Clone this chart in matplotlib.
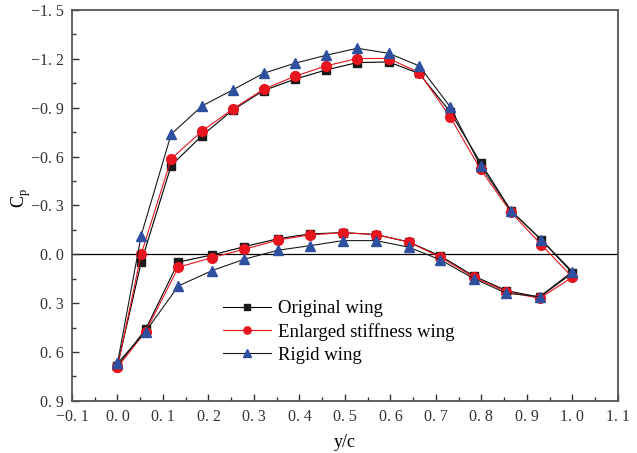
import matplotlib
matplotlib.use("Agg")
import matplotlib.pyplot as plt
import numpy as np
from matplotlib.ticker import MultipleLocator, FuncFormatter

plt.rcParams['font.family'] = ['Liberation Serif', 'DejaVu Serif']

# chordwise stations, upper surface (LE -> TE) then lower surface (TE -> LE)
x_upper = [0.0, 0.052, 0.118, 0.186, 0.253, 0.321, 0.390, 0.459, 0.527,
           0.596, 0.663, 0.731, 0.798, 0.865, 0.932, 1.0]
x_lower = [0.928, 0.855, 0.783, 0.710, 0.640, 0.568, 0.496, 0.423, 0.353,
           0.279, 0.208, 0.134, 0.062, 0.0]

cp_orig_up = [0.685, 0.05, -0.545, -0.729, -0.885, -1.005, -1.075, -1.132, -1.177,
              -1.181, -1.11, -0.876, -0.563, -0.268, -0.088, 0.115]
cp_orig_lo = [0.263, 0.223, 0.133, 0.01, -0.076, -0.121, -0.133, -0.125, -0.096,
              -0.047, 0.004, 0.047, 0.46, 0.685]

cp_stiff_up = [0.693, 0.0, -0.586, -0.757, -0.891, -1.013, -1.093, -1.157, -1.202,
               -1.202, -1.116, -0.845, -0.522, -0.258, -0.058, 0.141]
cp_stiff_lo = [0.27, 0.23, 0.14, 0.018, -0.076, -0.121, -0.133, -0.119, -0.088,
               -0.031, 0.02, 0.079, 0.474, 0.693]

cp_rigid_up = [0.669, -0.115, -0.737, -0.911, -1.009, -1.111, -1.173, -1.222, -1.265,
               -1.234, -1.157, -0.907, -0.543, -0.268, -0.088, 0.106]
cp_rigid_lo = [0.26, 0.239, 0.149, 0.034, -0.044, -0.084, -0.084, -0.053, -0.025,
               0.03, 0.1, 0.194, 0.474, 0.669]

xc = x_upper + x_lower

fig = plt.figure(figsize=(6.37, 4.53), dpi=100)
ax = fig.add_axes([0.113, 0.115, 0.857, 0.863])

ax.axhline(0, color='black', lw=0.9, zorder=1)

ax.plot(xc, cp_orig_up + cp_orig_lo, color='black', lw=0.8, marker='s',
        ms=6, mfc='#1a1a1a', mec='#1a1a1a', label='Original wing', zorder=3)
ax.plot(xc, cp_stiff_up + cp_stiff_lo, color='#e8141e', lw=0.8, marker='o',
        ms=7, mfc='#e8141e', mec='#e8141e', label='Enlarged stiffness wing', zorder=4)
ax.plot(xc, cp_rigid_up + cp_rigid_lo, color='#1a1a1a', lw=0.8, marker='^',
        ms=7.5, mfc='#2f4fa0', mec='#2f4fa0', label='Rigid wing', zorder=5)

ax.set_xlim(-0.1, 1.1)
ax.set_ylim(0.9, -1.5)
ax.xaxis.set_major_locator(MultipleLocator(0.1))
ax.xaxis.set_minor_locator(MultipleLocator(0.05))
ax.yaxis.set_major_locator(MultipleLocator(0.3))
ax.yaxis.set_minor_locator(MultipleLocator(0.15))

fmt = FuncFormatter(lambda v, p: ('%.1f' % v).replace('.', '. ').replace('-', '\u2212')
                    if abs(v) > 1e-9 else '0. 0')
ax.xaxis.set_major_formatter(fmt)
ax.yaxis.set_major_formatter(fmt)

ax.tick_params(which='both', direction='in', top=False, right=False,
               labelsize=11.5, colors='#333333', width=1.0)
ax.tick_params(which='major', length=5, pad=6)
ax.tick_params(which='minor', length=3)
for s in ax.spines.values():
    s.set_color('#555555')
    s.set_linewidth(1.3)

ax.set_xlabel('y/c', fontsize=13, labelpad=6)
ax.set_ylabel('C$_\\mathregular{p}$', fontsize=13)
ax.yaxis.set_label_coords(-0.072, 0.52)

ax.legend(loc='lower left', bbox_to_anchor=(0.245, 0.052), frameon=False,
          fontsize=13.5, handlelength=2.6, handletextpad=0.35, labelspacing=0.3,
          markerscale=0.75)

fig.savefig('out.png', dpi=100)
